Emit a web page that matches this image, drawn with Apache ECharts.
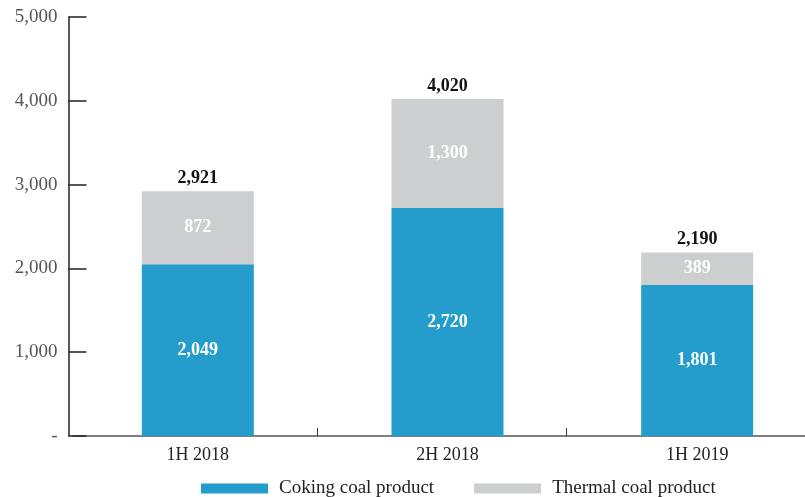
<!DOCTYPE html>
<html><head><meta charset="utf-8">
<script src="https://cdn.jsdelivr.net/npm/echarts@6/dist/echarts.min.js"></script>
<style>html,body{margin:0;padding:0;background:#fff}#c{width:805px;height:497px}</style>
</head><body><div id="c"></div>
<script>
var categories = ['1H 2018', '2H 2018', '1H 2019'];
var coking = [2049, 2720, 1801];
var thermal = [872, 1300, 389];
var totals = [2921, 4020, 2190];
var seriesNames = ['Coking coal product', 'Thermal coal product'];

function fmt(v){ return v.toString().replace(/\B(?=(\d{3})+(?!\d))/g, ','); }
var F = '"Liberation Serif", "DejaVu Serif", serif';
var chart = echarts.init(document.getElementById('c'));
chart.setOption({
  animation: false,
  grid: {left: 73, right: -17, top: 17, bottom: 61, containLabel: false, outerBoundsMode: 'none'},
  legend: {
    data: seriesNames, top: 474, left: 196, itemWidth: 67, itemHeight: 10, itemGap: 40,
    textStyle: {fontFamily: F, fontSize: 19, color: '#222', padding: [0, 0, 0, 6]}, icon: 'rect'
  },
  xAxis: [{
    type: 'category', data: categories, position: 'bottom', show: false
  }, {
    type: 'value', min: -0.5, max: 2.5, position: 'bottom',
    splitLine: {show: false},
    axisLine: {onZero: false, lineStyle: {color: '#555', width: 1.5}},
    axisTick: {inside: true, length: 8, lineStyle: {color: '#333'}, customValues: [0.477, 1.475]},
    axisLabel: {fontFamily: F, fontSize: 18, color: '#222', margin: 10, customValues: [0, 1, 2],
      formatter: function(v){ return categories[Math.round(v)]; }}
  }],
  yAxis: {
    type: 'value', min: 0, max: 5000, interval: 1000, offset: 4.5,
    axisLine: {show: true, onZero: false, lineStyle: {color: '#222', width: 1.5}},
    axisTick: {show: true, inside: true, length: 18, lineStyle: {color: '#222', width: 1.5}},
    splitLine: {show: false},
    axisLabel: {fontFamily: F, fontSize: 19, color: '#555', margin: 11,
      formatter: function(v){ return v === 0 ? '-' : fmt(v); }}
  },
  series: [
    {name: seriesNames[0], type: 'bar', stack: 's', data: coking, barWidth: 112,
     itemStyle: {color: '#249DCD'},
     label: {show: true, position: 'inside', fontFamily: F, fontSize: 18, fontWeight: 'bold', color: '#fff',
       formatter: function(p){ return fmt(p.value); }}},
    {name: seriesNames[1], type: 'bar', stack: 's', data: thermal, barWidth: 112,
     itemStyle: {color: '#CDCED0'},
     label: {show: true, position: 'inside', fontFamily: F, fontSize: 18, fontWeight: 'bold', color: '#fff',
       formatter: function(p){ return fmt(p.value); }}},
    {name: 'total', type: 'bar', stack: 's', data: totals.map(function(){return 0;}), barWidth: 112,
     itemStyle: {color: 'transparent'},
     label: {show: true, position: 'top', distance: 4, fontFamily: F, fontSize: 18, fontWeight: 'bold', color: '#111',
       formatter: function(p){ return fmt(totals[p.dataIndex]); }}}
  ]
});
</script></body></html>
